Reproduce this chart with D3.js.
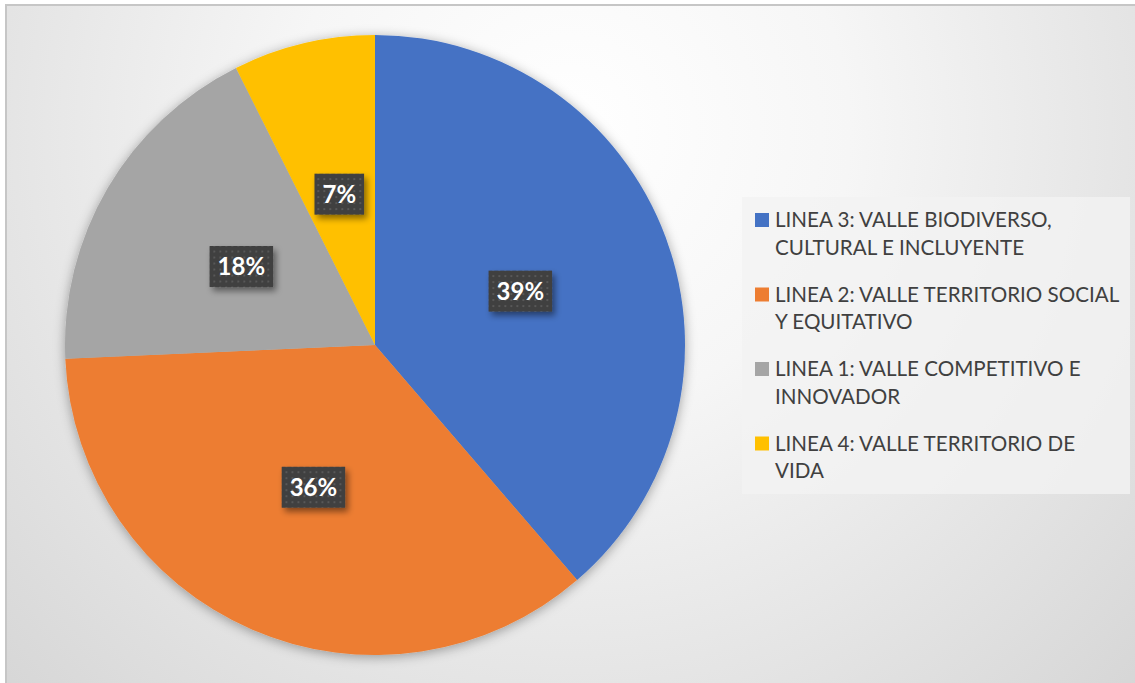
<!DOCTYPE html>
<html>
<head>
<meta charset="utf-8">
<script src="https://cdn.jsdelivr.net/npm/d3@7"></script>
<style>
  body { margin: 0; background: #fff; }
  svg { display: block; }
</style>
</head>
<body>
<script>
// pie of the four lineas
const categories = [
  ["LINEA 3: VALLE BIODIVERSO,", "CULTURAL E INCLUYENTE"],
  ["LINEA 2: VALLE TERRITORIO SOCIAL", "Y EQUITATIVO"],
  ["LINEA 1: VALLE COMPETITIVO E", "INNOVADOR"],
  ["LINEA 4: VALLE TERRITORIO DE", "VIDA"]
];
const values = [38.7, 35.6, 18.3, 7.4];
const colors = ["#4472c4", "#ed7d31", "#a5a5a5", "#ffc000"];

const svgWidth = 1135;
const svgHeight = 683;
const cx = 375, cy = 345, radius = 310;

const svg = d3.select('body')
  .append('svg')
  .attr('width', svgWidth)
  .attr('height', svgHeight);

const defs = svg.append('defs');

const bg = defs.append('radialGradient')
  .attr('id', 'bg')
  .attr('gradientUnits', 'userSpaceOnUse')
  .attr('cx', 570).attr('cy', 130).attr('r', 800);
bg.append('stop').attr('offset', '0').attr('stop-color', '#ffffff');
bg.append('stop').attr('offset', '0.35').attr('stop-color', '#f6f6f6');
bg.append('stop').attr('offset', '1').attr('stop-color', '#d6d6d6');

const shadow = defs.append('filter')
  .attr('id', 'pieShadow')
  .attr('x', '-20%').attr('y', '-20%').attr('width', '140%').attr('height', '140%');
shadow.append('feDropShadow')
  .attr('dx', 0).attr('dy', 2).attr('stdDeviation', 6)
  .attr('flood-color', '#000').attr('flood-opacity', 0.35);

const boxShadow = defs.append('filter')
  .attr('id', 'boxShadow')
  .attr('x', '-30%').attr('y', '-30%').attr('width', '160%').attr('height', '170%');
boxShadow.append('feDropShadow')
  .attr('dx', 3).attr('dy', 4).attr('stdDeviation', 3)
  .attr('flood-color', '#000').attr('flood-opacity', 0.45);

const dots = defs.append('pattern')
  .attr('id', 'dots')
  .attr('patternUnits', 'userSpaceOnUse')
  .attr('width', 6).attr('height', 6);
dots.append('rect').attr('width', 6).attr('height', 6).attr('fill', '#3f3f3f');
dots.append('rect').attr('x', 2).attr('y', 2).attr('width', 2).attr('height', 2)
  .attr('fill', '#585858');

// background + border (right/bottom edges fall outside the frame)
svg.append('rect')
  .attr('x', 6).attr('y', 5)
  .attr('width', svgWidth).attr('height', svgHeight)
  .attr('fill', 'url(#bg)')
  .attr('stroke', '#c6c6c6')
  .attr('stroke-width', 2);

const pie = d3.pie().sort(null).value(d => d);
const arcs = pie(values);
const arc = d3.arc().innerRadius(0).outerRadius(radius);
const labelArc = d3.arc().innerRadius(radius * 0.5).outerRadius(radius * 0.5);

const g = svg.append('g').attr('transform', `translate(${cx},${cy})`);

g.append('g')
  .attr('filter', 'url(#pieShadow)')
  .selectAll('path')
  .data(arcs)
  .enter()
  .append('path')
  .attr('d', arc)
  .attr('fill', (d, i) => colors[i]);

const total = d3.sum(values);
const labels = g.selectAll('g.lbl')
  .data(arcs)
  .enter()
  .append('g')
  .attr('class', 'lbl')
  .attr('transform', d => `translate(${labelArc.centroid(d)})`);

labels.each(function(d) {
  const sel = d3.select(this);
  const txt = Math.round(d.data / total * 100) + '%';
  const t = sel.append('text')
    .attr('text-anchor', 'middle')
    .attr('dy', '0.36em')
    .style('font-family', 'Lato, "Open Sans", sans-serif')
    .style('font-weight', 'bold')
    .style('font-size', '24px')
    .attr('fill', '#ffffff')
    .text(txt);
  const bb = t.node().getBBox();
  sel.insert('rect', 'text')
    .attr('x', bb.x - 8).attr('y', -20.5)
    .attr('width', bb.width + 16).attr('height', 41)
    .attr('fill', 'url(#dots)')
    .attr('filter', 'url(#boxShadow)');
});

// legend
const legend = svg.append('g');
legend.append('rect')
  .attr('x', 742).attr('y', 197)
  .attr('width', 388).attr('height', 297)
  .attr('fill', '#f2f2f2')
  .attr('opacity', 0.8);

const item = legend.selectAll('g.item')
  .data(categories)
  .enter()
  .append('g')
  .attr('class', 'item')
  .attr('transform', (d, i) => `translate(755, ${220 + i * 74.5})`);

item.append('rect')
  .attr('x', 0).attr('y', -7)
  .attr('width', 14).attr('height', 14)
  .attr('fill', (d, i) => colors[i]);

item.each(function(d) {
  const t = d3.select(this).append('text')
    .attr('x', 20)
    .style('font-family', 'Lato, "Open Sans", sans-serif')
    .style('font-size', '20.6px')
    .attr('fill', '#404040');
  d.forEach((line, j) => {
    t.append('tspan')
      .attr('x', 20)
      .attr('y', j * 27.5)
      .attr('dy', '0.36em')
      .text(line);
  });
});
</script>
</body>
</html>
